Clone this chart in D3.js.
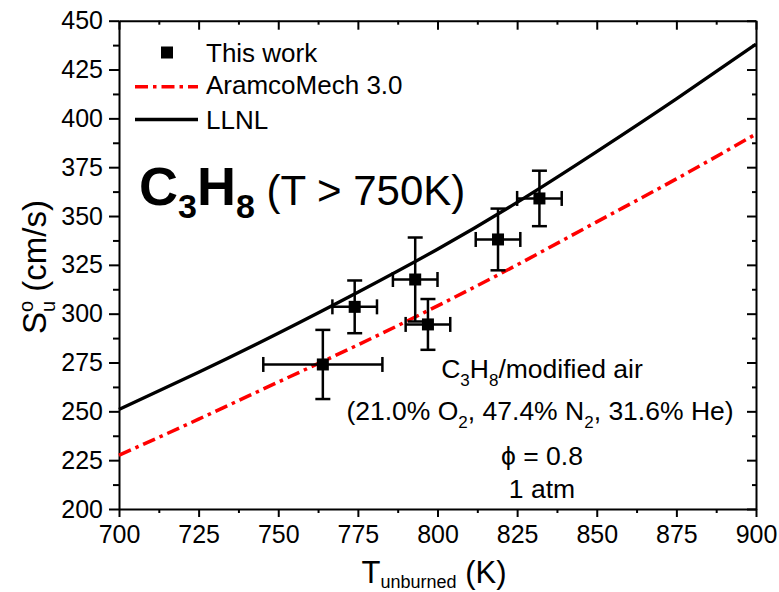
<!DOCTYPE html>
<html>
<head>
<meta charset="utf-8">
<script src="https://cdn.jsdelivr.net/npm/d3@7/dist/d3.min.js"></script>
<style>
  html, body { margin: 0; padding: 0; background: #fff; }
  svg { display: block; }
  text { font-family: "Liberation Sans", Arial, Helvetica, sans-serif; fill: #000; }
</style>
</head>
<body>
<svg id="chart" width="779" height="592"></svg>
<script>
// Measured laminar flame speeds (this work)
const tempK     = [764, 774, 793, 797, 819, 832];
const speed     = [274, 303.5, 317.5, 294.5, 338, 359];
const tempErr   = [18.7, 7, 7, 7, 7, 7];
const speedErr  = [17.7, 13.5, 21.5, 13, 15.8, 14.2];

// Model predictions
const modelT    = [700, 725, 750, 775, 800, 825, 850, 875, 900];
const llnl      = [251, 270, 290, 311, 333, 357, 383, 410, 438];
const aramco    = [227.5, 246, 265, 284, 304, 325, 347, 369, 392];

// Axis ticks
const xTicks = [700, 725, 750, 775, 800, 825, 850, 875, 900];
const yTicks = [200, 225, 250, 275, 300, 325, 350, 375, 400, 425, 450];

const legendLabels = ["This work", "AramcoMech 3.0", "LLNL"];

const svg = d3.select("#chart");
const m = { left: 119, right: 756, top: 20.7, bottom: 509 };

const x = d3.scaleLinear().domain([700, 900]).range([m.left, m.right]);
const y = d3.scaleLinear().domain([200, 450]).range([m.bottom, m.top]);

const xMinor = d3.range(712.5, 900, 25);
const yMinor = d3.range(212.5, 450, 25);

// ----- axes -----
function styleAxis(g) {
  g.selectAll("path.domain").attr("stroke", "#000").attr("stroke-width", 2);
  g.selectAll(".tick line").attr("stroke", "#000").attr("stroke-width", 2);
}

// bottom
const gx = svg.append("g").attr("transform", `translate(0,${m.bottom})`)
  .call(d3.axisBottom(x).tickValues(xTicks).tickSize(8).tickSizeOuter(0).tickPadding(8).tickFormat(d3.format("d")));
styleAxis(gx);
gx.selectAll(".tick text").attr("font-size", 25).attr("font-family", "Liberation Sans, Arial, sans-serif");
svg.append("g").attr("transform", `translate(0,${m.bottom})`)
  .call(d3.axisBottom(x).tickValues(xMinor).tickSize(4).tickSizeOuter(0).tickFormat(""))
  .call(g => g.select(".domain").remove()).call(styleAxis);

// left
const gy = svg.append("g").attr("transform", `translate(${m.left},0)`)
  .call(d3.axisLeft(y).tickValues(yTicks).tickSize(10).tickSizeOuter(0).tickPadding(6).tickFormat(d3.format("d")));
styleAxis(gy);
gy.selectAll(".tick text").attr("font-size", 25).attr("font-family", "Liberation Sans, Arial, sans-serif");
svg.append("g").attr("transform", `translate(${m.left},0)`)
  .call(d3.axisLeft(y).tickValues(yMinor).tickSize(6).tickSizeOuter(0).tickFormat(""))
  .call(g => g.select(".domain").remove()).call(styleAxis);

// top (inward ticks)
svg.append("g").attr("transform", `translate(0,${m.top})`)
  .call(d3.axisBottom(x).tickValues(xTicks).tickSize(9).tickSizeOuter(0).tickFormat(""))
  .call(styleAxis);
svg.append("g").attr("transform", `translate(0,${m.top})`)
  .call(d3.axisBottom(x).tickValues(xMinor).tickSize(4).tickSizeOuter(0).tickFormat(""))
  .call(g => g.select(".domain").remove()).call(styleAxis);

// right (inward ticks)
svg.append("g").attr("transform", `translate(${m.right},0)`)
  .call(d3.axisLeft(y).tickValues(yTicks).tickSize(9).tickSizeOuter(0).tickFormat(""))
  .call(styleAxis);
svg.append("g").attr("transform", `translate(${m.right},0)`)
  .call(d3.axisLeft(y).tickValues(yMinor).tickSize(4).tickSizeOuter(0).tickFormat(""))
  .call(g => g.select(".domain").remove()).call(styleAxis);

// ----- model curves -----
const line = d3.line().x(d => x(d[0])).y(d => y(d[1])).curve(d3.curveNatural);

svg.append("path")
  .datum(modelT.map((t, i) => [t, aramco[i]]))
  .attr("d", line).attr("fill", "none")
  .attr("stroke", "#ff0000").attr("stroke-width", 3.5)
  .attr("stroke-dasharray", "13,5,3.5,5");

svg.append("path")
  .datum(modelT.map((t, i) => [t, llnl[i]]))
  .attr("d", line).attr("fill", "none")
  .attr("stroke", "#000").attr("stroke-width", 3.3);

// ----- measurements with error bars -----
const pts = tempK.map((t, i) => ({ t, s: speed[i], et: tempErr[i], es: speedErr[i] }));
const cap = 7.5;
const eb = svg.append("g").attr("stroke", "#000").attr("stroke-width", 2.5).attr("fill", "none");
pts.forEach(p => {
  const cx = x(p.t), cy = y(p.s);
  const x0 = x(p.t - p.et), x1 = x(p.t + p.et);
  const y0 = y(p.s - p.es), y1 = y(p.s + p.es);
  eb.append("line").attr("x1", x0).attr("x2", x1).attr("y1", cy).attr("y2", cy);
  eb.append("line").attr("x1", cx).attr("x2", cx).attr("y1", y0).attr("y2", y1);
  eb.append("line").attr("x1", x0).attr("x2", x0).attr("y1", cy - cap).attr("y2", cy + cap);
  eb.append("line").attr("x1", x1).attr("x2", x1).attr("y1", cy - cap).attr("y2", cy + cap);
  eb.append("line").attr("x1", cx - cap).attr("x2", cx + cap).attr("y1", y0).attr("y2", y0);
  eb.append("line").attr("x1", cx - cap).attr("x2", cx + cap).attr("y1", y1).attr("y2", y1);
});
const ms = 12;
svg.append("g").selectAll("rect").data(pts).join("rect")
  .attr("x", d => x(d.t) - ms / 2).attr("y", d => y(d.s) - ms / 2)
  .attr("width", ms).attr("height", ms).attr("fill", "#000");

// ----- legend -----
const lg = svg.append("g");
lg.append("rect").attr("x", 161).attr("y", 46.5).attr("width", ms).attr("height", ms).attr("fill", "#000");
lg.append("line").attr("x1", 135).attr("x2", 198).attr("y1", 86.7).attr("y2", 86.7)
  .attr("stroke", "#ff0000").attr("stroke-width", 3.5).attr("stroke-dasharray", "13,5,3.5,5");
lg.append("line").attr("x1", 135).attr("x2", 198).attr("y1", 119.5).attr("y2", 119.5)
  .attr("stroke", "#000").attr("stroke-width", 3.5);
[62, 94, 129].forEach((by, i) => {
  lg.append("text").attr("x", 206).attr("y", by).attr("font-size", 26).text(legendLabels[i]);
});

// ----- title -----
const title = svg.append("text").attr("x", 139).attr("y", 205);
title.append("tspan").attr("font-size", 54).attr("font-weight", "bold").text("C");
title.append("tspan").attr("font-size", 34).attr("font-weight", "bold").attr("dy", 13).text("3");
title.append("tspan").attr("font-size", 54).attr("font-weight", "bold").attr("dy", -13).text("H");
title.append("tspan").attr("font-size", 34).attr("font-weight", "bold").attr("dy", 13).text("8");
title.append("tspan").attr("font-size", 42).attr("dy", -13).text(" (T > 750K)");

// ----- conditions annotation -----
const ann = svg.append("g").attr("font-size", 26.5).attr("text-anchor", "middle");
const a1 = ann.append("text").attr("x", 542).attr("y", 378);
a1.append("tspan").text("C");
a1.append("tspan").attr("font-size", 17).attr("dy", 8).text("3");
a1.append("tspan").attr("dy", -8).text("H");
a1.append("tspan").attr("font-size", 17).attr("dy", 8).text("8");
a1.append("tspan").attr("dy", -8).text("/modified air");

const a2 = ann.append("text").attr("x", 540).attr("y", 420);
a2.append("tspan").text("(21.0% O");
a2.append("tspan").attr("font-size", 17).attr("dy", 8).text("2");
a2.append("tspan").attr("dy", -8).text(", 47.4% N");
a2.append("tspan").attr("font-size", 17).attr("dy", 8).text("2");
a2.append("tspan").attr("dy", -8).text(", 31.6% He)");

ann.append("text").attr("x", 542).attr("y", 465).text("\u03d5 = 0.8");
ann.append("text").attr("x", 542).attr("y", 498).text("1 atm");

// ----- axis titles -----
const xt = svg.append("text").attr("x", 434).attr("y", 583).attr("font-size", 31).attr("text-anchor", "middle");
xt.append("tspan").text("T");
xt.append("tspan").attr("font-size", 18).attr("dy", 5).text("unburned");
xt.append("tspan").attr("dy", -5).text(" (K)");

const yt = svg.append("text")
  .attr("transform", `translate(46,267) rotate(-90)`)
  .attr("font-size", 33).attr("text-anchor", "middle");
yt.append("tspan").text("S");
yt.append("tspan").attr("font-size", 20).attr("dy", -13).text("o");
yt.append("tspan").attr("font-size", 20).attr("dx", -11.1).attr("dy", 22).text("u");
yt.append("tspan").attr("dy", -9).text(" (cm/s)");
</script>
</body>
</html>
